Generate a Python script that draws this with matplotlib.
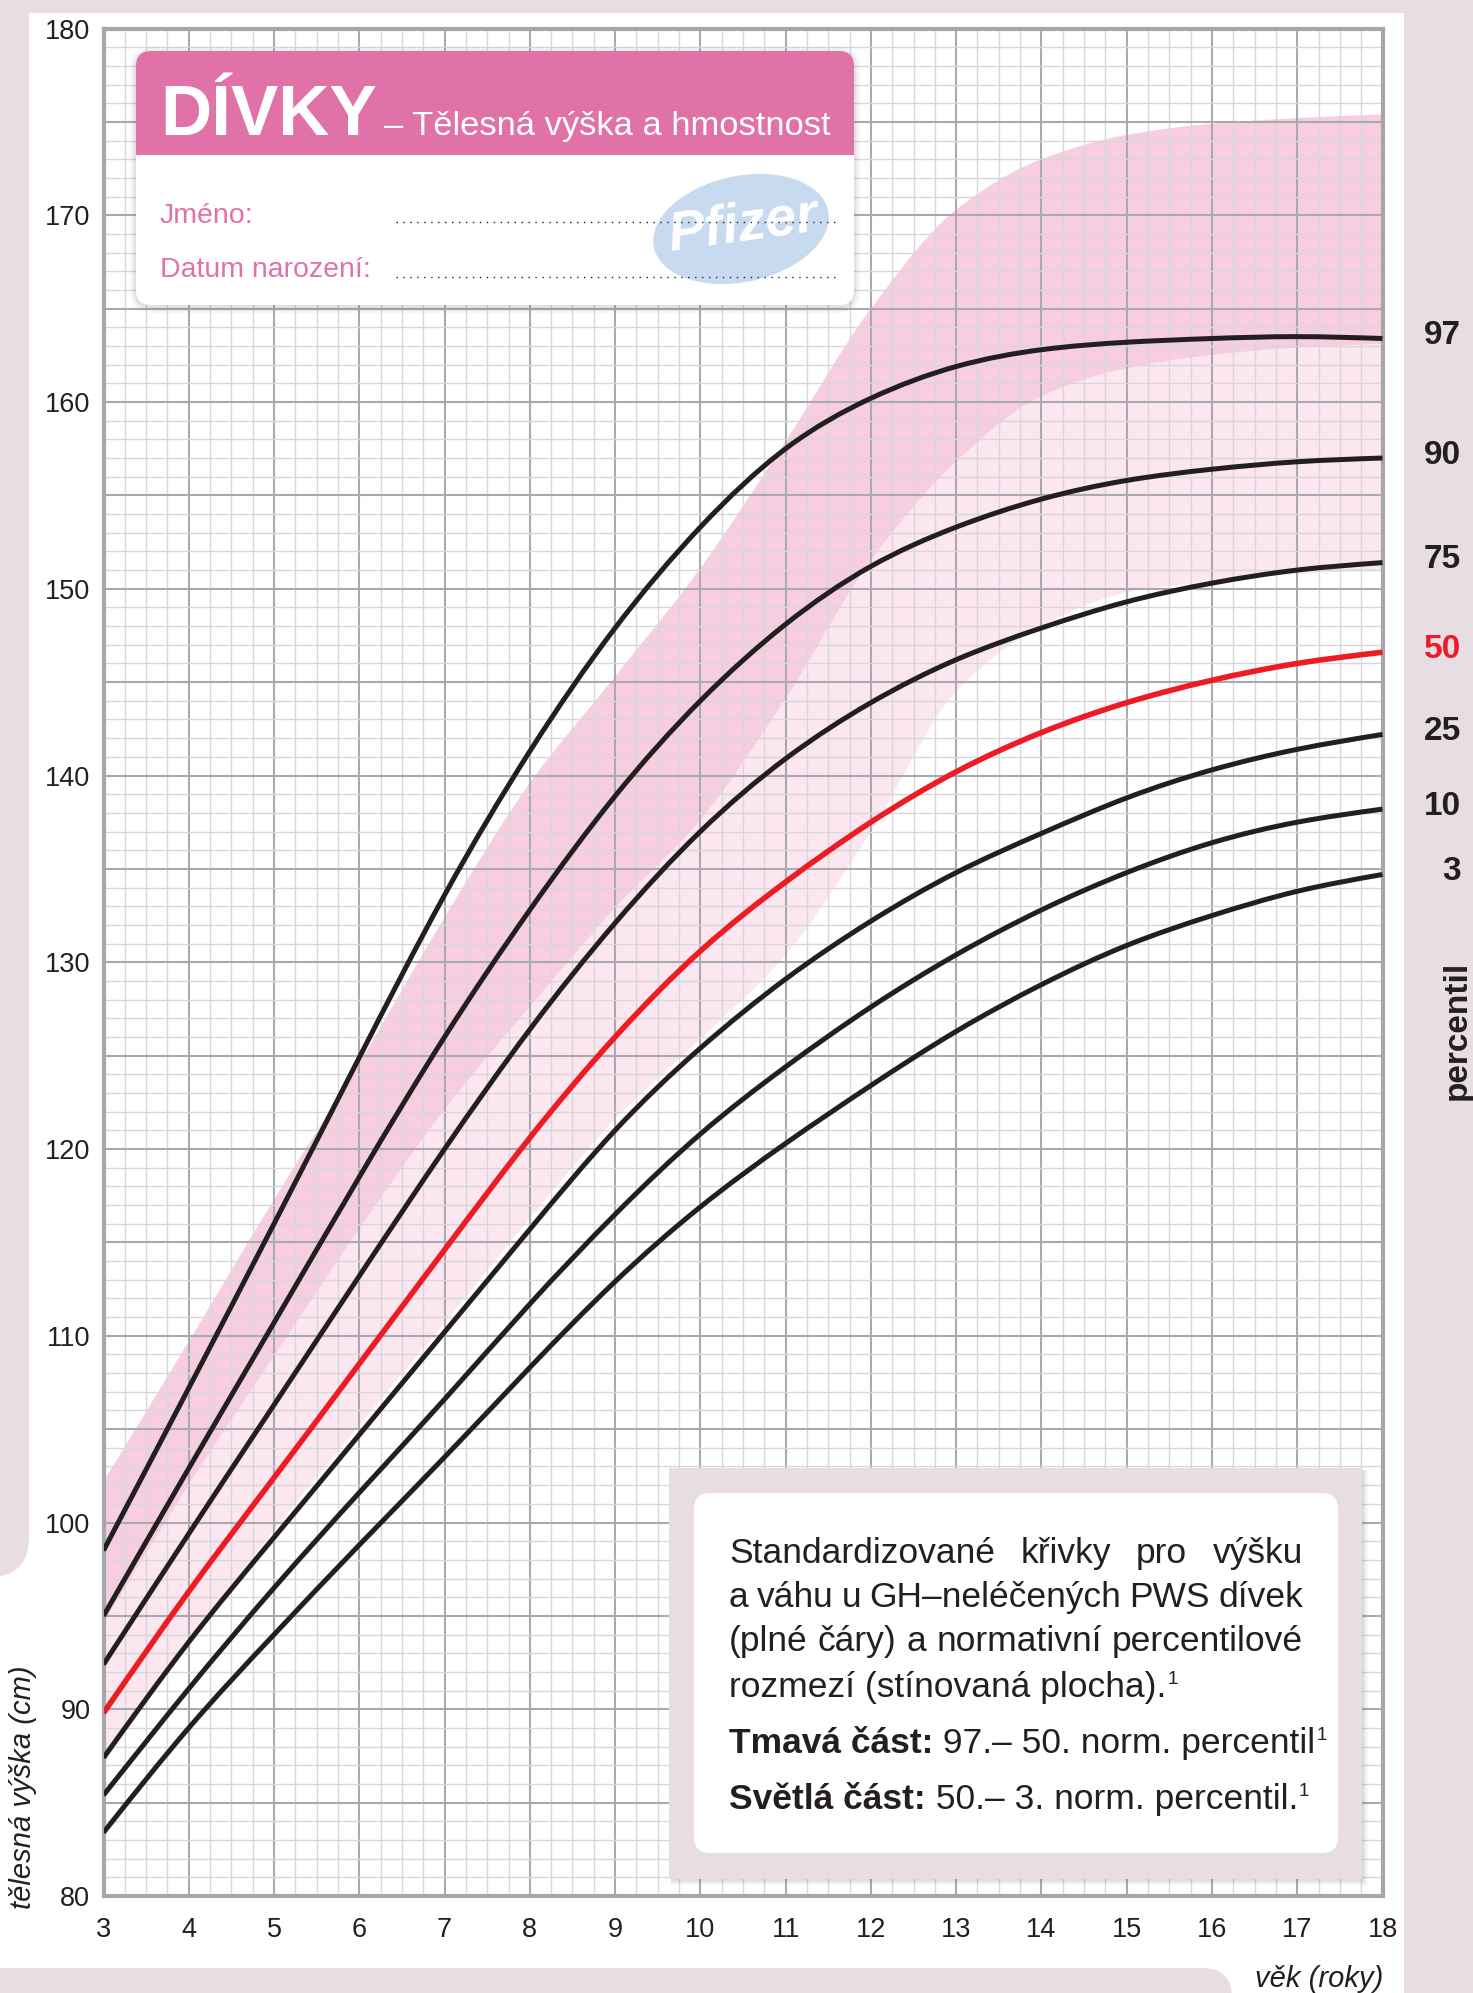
import numpy as np
import matplotlib
matplotlib.use("Agg")
import matplotlib.pyplot as plt
from matplotlib.path import Path
from matplotlib.patches import PathPatch, FancyBboxPatch, Rectangle, Ellipse
from matplotlib.lines import Line2D
from matplotlib.transforms import Affine2D, blended_transform_factory

# ---------------- data ----------------
ages = [3, 4, 5, 6, 7, 8, 9, 10, 11, 12, 13, 14, 15, 16, 17, 18]

p97 = [98.5, 107.2, 116.0, 124.9, 133.6, 141.3, 147.9, 153.3, 157.5, 160.2, 161.9, 162.8, 163.2, 163.4, 163.5, 163.4]
p90 = [95.0, 102.9, 110.7, 118.5, 126.0, 132.8, 138.9, 144.0, 148.1, 151.2, 153.3, 154.8, 155.8, 156.4, 156.8, 157.0]
p75 = [92.4, 99.4, 106.3, 113.2, 120.0, 126.4, 132.1, 137.0, 140.9, 143.9, 146.2, 147.9, 149.3, 150.3, 151.0, 151.4]
p50 = [89.8, 96.3, 102.4, 108.5, 114.6, 120.6, 126.0, 130.6, 134.3, 137.5, 140.2, 142.3, 143.9, 145.1, 146.0, 146.6]
p25 = [87.4, 93.6, 99.2, 104.7, 110.2, 115.7, 121.0, 125.4, 129.1, 132.2, 134.8, 136.9, 138.8, 140.3, 141.4, 142.2]
p10 = [85.4, 91.1, 96.5, 101.6, 106.6, 111.7, 116.5, 120.8, 124.4, 127.6, 130.4, 132.8, 134.8, 136.4, 137.5, 138.2]
p3 = [83.4, 89.0, 94.0, 98.8, 103.5, 108.3, 112.9, 116.9, 120.3, 123.4, 126.3, 128.8, 130.9, 132.5, 133.8, 134.7]

# normative reference ranges (shaded areas)
norm97 = [102.2, 109.7, 117.3, 124.6, 132.4, 139.6, 145.3, 151.1, 157.9, 165.0, 170.3, 173.0, 174.3, 174.9, 175.2, 175.4]
norm50 = [94.6, 102.0, 108.9, 115.7, 122.1, 127.6, 132.9, 137.6, 144.1, 151.5, 156.8, 160.3, 161.8, 162.5, 162.9, 163.1]
norm3 = [87.1, 93.6, 99.6, 105.2, 110.7, 116.3, 121.6, 125.9, 130.4, 137.0, 144.5, 148.0, 149.8, 150.4, 150.8, 151.0]

series = [("97", p97), ("90", p90), ("75", p75), ("50", p50), ("25", p25), ("10", p10), ("3", p3)]

x_ticks = list(range(3, 19))
y_ticks = list(range(80, 181, 10))

# ---------------- style ----------------
W, H = 1473, 1993
BG = "#e7dde3"
PINK = "#e072a8"
DARK = "#231f20"
RED = "#ed1c24"
BAND_DARK = "#f7cee0"
BAND_LIGHT = "#fce6ef"
GRID_MAJ = "#a9a9af"
GRID_MIN = "#d7d7db"

plt.rcParams["font.family"] = ["Liberation Sans", "DejaVu Sans"]

fig = plt.figure(figsize=(W / 100, H / 100), dpi=100, facecolor=BG)
T = Affine2D().scale(1.0 / W, 1.0 / H) + fig.transFigure  # pixel coords, y up


def Y(y):
    return H - y


def rbox(x0, y0, x1, y1, r, **kw):
    return FancyBboxPatch((x0, Y(y1)), x1 - x0, y1 - y0,
                          boxstyle=f"round,pad=0,rounding_size={r}",
                          transform=T, **kw)


def rect(x0, y0, x1, y1, **kw):
    return Rectangle((x0, Y(y1)), x1 - x0, y1 - y0, transform=T, **kw)


# ---------------- page background ----------------
fig.add_artist(rect(0, 13, 1404, H + 10, color="white", lw=0, zorder=-10))
fig.add_artist(rbox(-80, -80, 29, 1577, 40, color=BG, lw=0, zorder=-9))
fig.add_artist(rbox(-80, 1968, 1232, H + 80, 30, color=BG, lw=0, zorder=-9))

# ---------------- axes ----------------
x0p, x1p, ytop, ybot = 103.5, 1382.5, 28.5, 1896.0
ax = fig.add_axes([x0p / W, 1 - ybot / H, (x1p - x0p) / W, (ybot - ytop) / H])
ax.set_facecolor("white")
ax.set_xlim(3, 18)
ax.set_ylim(80, 180)

ax.set_xticks(x_ticks)
ax.set_xticklabels([str(v) for v in x_ticks])
ax.set_xticks(np.arange(3, 18.01, 0.25), minor=True)
ymaj = np.arange(80, 181, 5)
ax.set_yticks(ymaj)
ax.set_yticklabels([str(int(v)) if int(v) in y_ticks else "" for v in ymaj])
ax.set_yticks(np.arange(80, 181, 1), minor=True)
ax.tick_params(which="both", length=0)
ax.tick_params(axis="y", labelsize=19.5, pad=9.5, labelcolor=DARK)
ax.tick_params(axis="x", labelsize=19.5, pad=15, labelcolor=DARK)

ax.set_axisbelow(True)
ax.grid(which="minor", color=GRID_MIN, lw=1.0)
ax.grid(which="major", color=GRID_MAJ, lw=1.5)
for s in ax.spines.values():
    s.set_color("#a6a6ac")
    s.set_linewidth(3.0)


def natural_tangents(xs, ys):
    x = np.asarray(xs, float)
    y = np.asarray(ys, float)
    n = len(x)
    h = np.diff(x)
    A = np.zeros((n, n))
    b = np.zeros(n)
    A[0, 0] = A[-1, -1] = 1.0
    for i in range(1, n - 1):
        A[i, i - 1] = h[i - 1]
        A[i, i] = 2 * (h[i - 1] + h[i])
        A[i, i + 1] = h[i]
        b[i] = 6 * ((y[i + 1] - y[i]) / h[i] - (y[i] - y[i - 1]) / h[i - 1])
    M = np.linalg.solve(A, b)
    d = np.zeros(n)
    for i in range(n - 1):
        d[i] = (y[i + 1] - y[i]) / h[i] - h[i] * (2 * M[i] + M[i + 1]) / 6
    d[-1] = (y[-1] - y[-2]) / h[-1] + h[-1] * (M[-2] + 2 * M[-1]) / 6
    return d


def monotone_tangents(xs, ys):
    x = np.asarray(xs, float)
    y = np.asarray(ys, float)
    s = np.diff(y) / np.diff(x)
    d = np.zeros(len(x))
    d[0], d[-1] = s[0], s[-1]
    for i in range(1, len(x) - 1):
        if s[i - 1] * s[i] <= 0:
            d[i] = 0
        else:
            d[i] = 2 / (1 / s[i - 1] + 1 / s[i])
    return d


def bezier(xs, ys, tang):
    x = np.asarray(xs, float)
    y = np.asarray(ys, float)
    d = tang(x, y)
    verts = [(x[0], y[0])]
    codes = [Path.MOVETO]
    for i in range(len(x) - 1):
        h = x[i + 1] - x[i]
        verts += [(x[i] + h / 3, y[i] + d[i] * h / 3),
                  (x[i + 1] - h / 3, y[i + 1] - d[i + 1] * h / 3),
                  (x[i + 1], y[i + 1])]
        codes += [Path.CURVE4] * 3
    return verts, codes


def band(xs, top, bot, color):
    v1, c1 = bezier(xs, top, monotone_tangents)
    v2, c2 = bezier(xs[::-1], bot[::-1], monotone_tangents)
    c2[0] = Path.LINETO
    verts = v1 + v2 + [v1[0]]
    codes = c1 + c2 + [Path.CLOSEPOLY]
    ax.add_patch(PathPatch(Path(verts, codes), facecolor=color, edgecolor="none", zorder=0.2))


band(ages, norm97, norm50, BAND_DARK)
band(ages, norm50, norm3, BAND_LIGHT)

for name, vals in series:
    v, c = bezier(ages, vals, natural_tangents)
    col = RED if name == "50" else DARK
    ax.add_patch(PathPatch(Path(v, c), facecolor="none", edgecolor=col,
                           lw=4.0 if name == "50" else 3.6, capstyle="butt", zorder=3))

# percentile labels on the right
bt = blended_transform_factory(T, ax.transData)
for name, vals in series:
    fig.text(1461, vals[-1] + 0.15, name, transform=bt, ha="right", va="center",
             fontsize=24, fontweight="bold", color=RED if name == "50" else DARK)
fig.text(1457, Y(1030), "percentil", transform=T, rotation=90, ha="center", va="center",
         fontsize=24, fontweight="bold", color=DARK)

# axis titles
fig.text(23, Y(1909), "tělesná výška (cm)", transform=T, rotation=90, ha="center", va="bottom",
         fontsize=21, style="italic", color=DARK)
fig.text(1383, Y(1979), "věk (roky)", transform=T, ha="right", va="center",
         fontsize=21, style="italic", color=DARK)

renderer = fig.canvas.get_renderer()


def width_of(t):
    return t.get_window_extent(renderer=renderer).width


# ---------------- header card ----------------
for k, a in [(7, 0.05), (5, 0.07), (3, 0.09)]:
    fig.add_artist(rbox(136 - k + 1, 51 - k + 3, 854 + k - 1, 305 + k + 1, 15 + k,
                        color="#7a6f75", alpha=a, lw=0, zorder=4))
fig.add_artist(rbox(136, 51, 854, 305, 15, color="white", lw=0, zorder=5))
fig.add_artist(rbox(136, 51, 854, 180, 15, color=PINK, lw=0, zorder=5.1))
fig.add_artist(rect(136, 155, 854, 200, color="white", lw=0, zorder=5.2))

t1 = fig.text(160, Y(135), "DÍVKY", transform=T, ha="left", va="baseline",
              fontsize=51, fontweight="bold", color="white", zorder=6)
xend = 160 + width_of(t1)
fig.text(max(384, xend + 6), Y(135), "– Tělesná výška a hmostnost", transform=T, ha="left",
         va="baseline", fontsize=24.8, color="white", zorder=6)

fig.add_artist(Ellipse((741, Y(229)), 178, 106, angle=12, transform=T,
                       color="#c8daf0", lw=0, zorder=5.3))
fig.text(743, Y(226), "Pfizer", transform=T, ha="center", va="center", rotation=8,
         fontsize=40, fontweight="bold", style="italic", color="white", zorder=5.4)

fig.text(160, Y(223), "Jméno:", transform=T, ha="left", va="baseline",
         fontsize=20.5, color=PINK, zorder=6)
fig.text(160, Y(277), "Datum narození:", transform=T, ha="left", va="baseline",
         fontsize=20.5, color=PINK, zorder=6)
for yy in (222, 277):
    fig.add_artist(Line2D([396, 838], [Y(yy), Y(yy)], transform=T, color=DARK, lw=1.0,
                          linestyle=(0, (1, 4)), zorder=6))

# ---------------- explanation box ----------------
for k, a in [(6, 0.06), (4, 0.08), (2, 0.10)]:
    fig.add_artist(rect(669 + 2, 1468 + 2, 1362 + k, 1879 + k, color="#6f666b", alpha=a,
                        lw=0, zorder=4))
fig.add_artist(rect(669, 1468, 1362, 1879, color=BG, lw=0, zorder=5))
fig.add_artist(rbox(694, 1493, 1338, 1853, 16, color="white", lw=0, zorder=6))

FS = 25.5
LX0, LX1 = 729, 1303


def justified(text, y):
    words = text.split(" ")
    ts = [fig.text(0, Y(y), w, transform=T, ha="left", va="baseline", fontsize=FS,
                   color=DARK, zorder=7) for w in words]
    ws = [width_of(t) for t in ts]
    gap = (LX1 - LX0 - sum(ws)) / (len(words) - 1)
    x = LX0
    for t, w in zip(ts, ws):
        t.set_x(x)
        x += w + gap


def sequence(parts, y, sup=True):
    x = LX0
    for s, bold in parts:
        t = fig.text(x, Y(y), s, transform=T, ha="left", va="baseline", fontsize=FS,
                     fontweight="bold" if bold else "normal", color=DARK, zorder=7)
        x += width_of(t)
    if sup:
        fig.text(x + 1, Y(y - 13), "1", transform=T, ha="left", va="baseline",
                 fontsize=13.5, color=DARK, zorder=7)


justified("Standardizované křivky pro výšku", 1563)
justified("a váhu u GH–neléčených PWS dívek", 1607)
justified("(plné čáry) a normativní percentilové", 1651)
sequence([("rozmezí (stínovaná plocha).", False)], 1697)
sequence([("Tmavá část:", True), (" 97.– 50. norm. percentil", False)], 1753)
sequence([("Světlá část:", True), (" 50.– 3. norm. percentil.", False)], 1809)

fig.savefig("out.png", dpi=100, facecolor=BG)
